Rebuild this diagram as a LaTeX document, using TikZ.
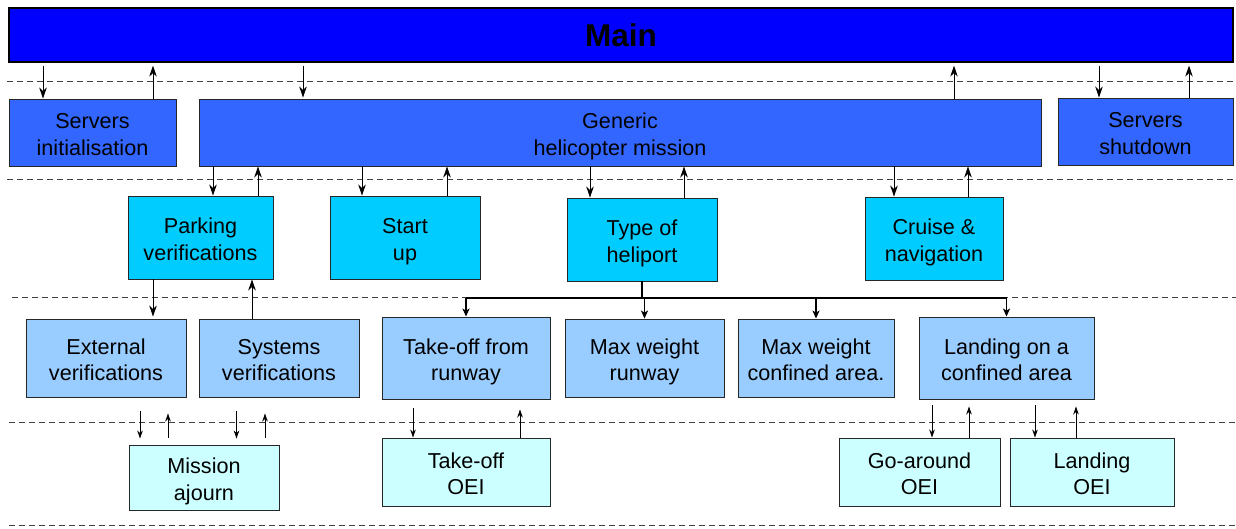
\documentclass[tikz,border=0pt]{standalone}
\usepackage{fontspec}
\setmainfont{Liberation Sans}
\usetikzlibrary{arrows.meta}
\definecolor{cmain}{HTML}{0000FF}
\definecolor{clevA}{HTML}{3366FF}
\definecolor{clevB}{HTML}{00CCFF}
\definecolor{clevC}{HTML}{99CCFF}
\definecolor{clevD}{HTML}{CCFFFF}
\tikzset{
  box/.style={draw=black!85, line width=0.9pt, align=center, inner sep=1pt,
    font=\fontsize{21.6}{26.5}\selectfont, text height=45pt, text depth=0pt},
  mainbox/.style={draw=black, line width=1.2pt, align=center, inner sep=1pt,
    font=\fontsize{31.5}{36}\selectfont\bfseries},
  sep/.style={draw=black!75, line width=0.9pt, dash pattern=on 6pt off 4pt},
  arr/.style={draw=black, line width=0.9pt, -{Stealth[length=11pt,width=7.5pt,inset=3.5pt]}},
  arrs/.style={draw=black, line width=0.9pt, -{Stealth[length=8pt,width=5.5pt,inset=2.5pt]}},
  arrthick/.style={draw=black, line width=1.8pt, -{Stealth[length=8pt,width=7pt,inset=2pt]}},
}
\begin{document}
\begin{tikzpicture}[x=1pt,y=-1pt]
\useasboundingbox (0,0) rectangle (1236,528);
% separators
\draw[sep] (7,81) -- (1236,81);
\draw[sep] (7,179) -- (1236,179);
\draw[sep] (12,297) -- (1236,297);
\draw[sep] (9,422) -- (1236,422);
\draw[sep] (9,525) -- (1236,525);
% boxes
\node[mainbox, fill=cmain, minimum width=1224pt, minimum height=54pt] (main) at (621,35) {Main};
\node[box, fill=clevA, minimum width=167pt, minimum height=67pt] (sinit) at (92.5,132.5) {Servers\\initialisation};
\node[box, fill=clevA, minimum width=842pt, minimum height=67pt] (generic) at (620,132.5) {Generic\\helicopter mission};
\node[box, fill=clevA, minimum width=175pt, minimum height=67pt] (sshut) at (1145.5,131.5) {Servers\\shutdown};
\node[box, fill=clevB, minimum width=145pt, minimum height=83pt] (parking) at (200.5,237.5) {Parking\\verifications};
\node[box, fill=clevB, minimum width=150pt, minimum height=83pt] (startup) at (405,237.5) {Start\\up};
\node[box, fill=clevB, minimum width=150pt, minimum height=83pt] (heliport) at (642,239.5) {Type of\\heliport};
\node[box, fill=clevB, minimum width=138pt, minimum height=83pt] (cruise) at (934,238.5) {Cruise \&\\navigation};
\node[box, fill=clevC, minimum width=160pt, minimum height=78pt] (external) at (106,358) {External\\verifications};
\node[box, fill=clevC, minimum width=160pt, minimum height=78pt] (systems) at (279,358) {Systems\\verifications};
\node[box, fill=clevC, minimum width=168pt, minimum height=82pt] (tofrunway) at (466,358) {Take-off from\\runway};
\node[box, fill=clevC, minimum width=159pt, minimum height=78pt] (mwrunway) at (644.5,358) {Max weight\\runway};
\node[box, fill=clevC, minimum width=156pt, minimum height=78pt] (mwconf) at (816,358) {Max weight\\confined area.};
\node[box, fill=clevC, minimum width=175pt, minimum height=82pt] (landconf) at (1006.5,358) {Landing on a\\confined area};
\node[box, fill=clevD, minimum width=150pt, minimum height=65pt] (mission) at (204,477.5) {Mission\\ajourn};
\node[box, fill=clevD, minimum width=168pt, minimum height=68pt] (tooei) at (466,472) {Take-off\\OEI};
\node[box, fill=clevD, minimum width=161pt, minimum height=68pt] (gaoei) at (919.5,472) {Go-around\\OEI};
\node[box, fill=clevD, minimum width=164pt, minimum height=68pt] (landoei) at (1092,472) {Landing\\OEI};
% main level arrows
\draw[arr, shorten <=3pt] (main.south -| 43,0) -- (sinit.north -| 43,0);
\draw[arr, shorten >=3pt] (sinit.north -| 153,0) -- (main.south -| 153,0);
\draw[arr, shorten <=3pt, shorten >=1pt] (main.south -| 303,0) -- (generic.north -| 303,0);
\draw[arr, shorten >=3pt] (generic.north -| 954,0) -- (main.south -| 954,0);
\draw[arr, shorten <=3pt] (main.south -| 1099,0) -- (sshut.north -| 1099,0);
\draw[arr, shorten >=3pt] (sshut.north -| 1189,0) -- (main.south -| 1189,0);
% generic to second level
\draw[arr] (generic.south -| 213,0) -- (parking.north -| 213,0);
\draw[arr] (parking.north -| 258,0) -- (generic.south -| 258,0);
\draw[arr] (generic.south -| 362,0) -- (startup.north -| 362,0);
\draw[arr] (startup.north -| 447,0) -- (generic.south -| 447,0);
\draw[arr] (generic.south -| 590,0) -- (heliport.north -| 590,0);
\draw[arr] (heliport.north -| 684,0) -- (generic.south -| 684,0);
\draw[arr] (generic.south -| 894,0) -- (cruise.north -| 894,0);
\draw[arr] (cruise.north -| 968,0) -- (generic.south -| 968,0);
% parking to third level
\draw[arr, shorten >=2pt] (parking.south -| 153,0) -- (external.north -| 153,0);
\draw[arr] (systems.north -| 252,0) -- (parking.south -| 252,0);
% heliport tree
\coordinate (hb) at (heliport.south |- 0,298);
\draw[line width=1.8pt] (heliport.south) -- (hb);
\draw[line width=1.8pt] (tofrunway.north |- hb) -- (landconf.north |- hb);
\draw[arrthick] (tofrunway.north |- hb) -- (tofrunway.north);
\draw[arrthick] (mwrunway.north |- hb) -- (mwrunway.north);
\draw[arrthick] (mwconf.north |- hb) -- (mwconf.north);
\draw[arrthick] (landconf.north |- hb) -- (landconf.north);
% third to fourth level
\draw[arrs, shorten <=14pt, shorten >=6pt] (external.south -| 140,0) -- (mission.north -| 140,0);
\draw[arrs, shorten <=7pt, shorten >=16pt] (mission.north -| 168,0) -- (external.south -| 168,0);
\draw[arrs, shorten <=14pt, shorten >=6pt] (systems.south -| 236.5,0) -- (mission.north -| 236.5,0);
\draw[arrs, shorten <=7pt, shorten >=16pt] (mission.north -| 265,0) -- (systems.south -| 265,0);
\draw[arrs, shorten <=9pt] (tofrunway.south -| 413,0) -- (tooei.north -| 413,0);
\draw[arrs, shorten >=10pt] (tooei.north -| 520,0) -- (tofrunway.south -| 520,0);
\draw[arrs, shorten <=6pt] (landconf.south -| 932,0) -- (gaoei.north -| 932,0);
\draw[arrs, shorten >=7pt] (gaoei.north -| 969,0) -- (landconf.south -| 969,0);
\draw[arrs, shorten <=6pt] (landconf.south -| 1035,0) -- (landoei.north -| 1035,0);
\draw[arrs, shorten >=7pt] (landoei.north -| 1076,0) -- (landconf.south -| 1076,0);
\end{tikzpicture}
\end{document}
